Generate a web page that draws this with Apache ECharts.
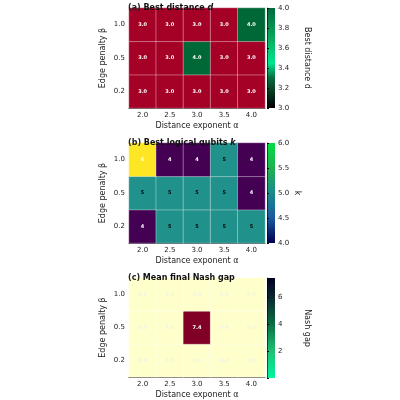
<!DOCTYPE html><html><head><meta charset="utf-8"><script src="https://cdn.jsdelivr.net/npm/echarts@6/dist/echarts.min.js"></script>
<style>html,body{margin:0;background:#fff}#c{width:400px;height:400px}</style></head><body><div id="c"></div><script>
const alphas=['2.0','2.5','3.0','3.5','4.0'];
const betas=['0.2','0.5','1.0'];
// rows: beta 0.2, 0.5, 1.0 ; columns alpha
const bestD=[[3.0,3.0,3.0,3.0,3.0],[3.0,3.0,4.0,3.0,3.0],[3.0,3.0,3.0,3.0,4.0]];
const bestK=[[4,5,5,5,5],[5,5,5,5,4],[6,4,4,5,4]];
const nashGap=[[0.0,0.0,0.0,0.0,0.0],[0.0,0.0,7.4,0.0,0.0],[0.0,0.0,0.0,0.0,0.0]];
const cbA=[3.0,4.0], cbB=[4.0,6.0], cbC=[0,7.4];

const F='DejaVu Sans';
const panels=[
 {top:8,data:bestD,fmt:v=>v.toFixed(1),col:v=>v>=4?'#006837':'#a50026',lab:v=>'#fff',
  title:['(a) ','Best distance ','d'],cb:cbA,cbInt:0.2,cbName:'Best distance d',cbFmt:v=>v.toFixed(1),
  grad:[[0,'#000000'],[0.3,'#0b6b3e'],[0.45,'#00e68c'],[0.7,'#0aa85c'],[1,'#006b3c']]},
 {top:143,data:bestK,fmt:v=>String(v),col:v=>v==6?'#fde725':v==5?'#21918c':'#440154',lab:v=>v==5?'#000':'#fff',
  title:['(b) ','Best logical qubits ','k'],cb:cbB,cbInt:0.5,cbName:'k',cbFmt:v=>v.toFixed(1),
  grad:[[0,'#000050'],[0.25,'#1a5aa0'],[0.5,'#1a8a8a'],[0.75,'#20b050'],[1,'#00e040']]},
 {top:278,data:nashGap,fmt:v=>v.toFixed(1),col:v=>v>1?'#800026':'#ffffcc',lab:v=>v>1?'#fff':'#f2f2e0',
  title:['(c) ','Mean final Nash gap',''],cb:cbC,cbInt:2,cbName:'Nash gap',cbFmt:v=>String(v),cbMin:0,
  grad:[[0,'#00f5a0'],[0.27,'#1ec070'],[0.55,'#0a6a40'],[0.8,'#0a2a30'],[1,'#000020']]}
];
const grid=[],xAxis=[],yAxis=[],series=[],graphic=[],title=[];
panels.forEach((p,i)=>{
 grid.push({left:129,top:p.top,width:136,height:100});
 grid.push({left:267,top:p.top,width:8,height:100});
 const gi=i*2;
 xAxis.push({gridIndex:gi,type:'category',data:alphas,name:'Distance exponent α',nameLocation:'middle',nameGap:14,
   nameTextStyle:{fontFamily:F,fontSize:8,color:'#222'},axisLine:{lineStyle:{color:'#000',width:0.8}},
   axisTick:{length:2,alignWithLabel:true,lineStyle:{color:'#000'}},axisLabel:{fontFamily:F,fontSize:7,color:'#222',margin:4},splitLine:{show:false}});
 yAxis.push({gridIndex:gi,type:'category',data:betas,name:'Edge penalty β',nameLocation:'middle',nameGap:22,
   nameTextStyle:{fontFamily:F,fontSize:8,color:'#222'},axisLine:{lineStyle:{color:'#000',width:0.8}},
   axisTick:{length:2,alignWithLabel:true,lineStyle:{color:'#000'}},axisLabel:{fontFamily:F,fontSize:7,color:'#222',margin:4}});
 xAxis.push({gridIndex:gi+1,type:'value',show:false,min:0,max:1});
 yAxis.push({gridIndex:gi+1,type:'value',position:'right',min:p.cbMin!==undefined?p.cbMin:p.cb[0],max:p.cb[1],interval:p.cbInt,
   name:p.cbName,nameLocation:'middle',nameGap:i==1?18:28,nameRotate:-90,nameTextStyle:{fontFamily:F,fontSize:8,color:'#222'},
   axisLine:{show:true,lineStyle:{color:'#000',width:0.6}},axisTick:{show:true,length:2,lineStyle:{color:'#000'}},
   axisLabel:{fontFamily:F,fontSize:7,color:'#222',margin:3,formatter:v=>(p.cbMin===0&&v===0)?'':p.cbFmt(v),showMaxLabel:p.cbMin!==0},splitLine:{show:false}});
 const d=[];
 p.data.forEach((row,r)=>row.forEach((v,c)=>d.push({value:[c,r,v],itemStyle:{color:p.col(v)},label:{color:p.lab(v)}})));
 series.push({type:'heatmap',xAxisIndex:gi,yAxisIndex:gi,data:d,
   itemStyle:{borderColor:'rgba(255,255,255,0.6)',borderWidth:0.6},
   label:{show:true,fontFamily:F,fontSize:5,fontWeight:'bold',formatter:o=>p.fmt(o.value[2])}});
 graphic.push({type:'rect',shape:{x:267,y:p.top,width:8,height:100},z:-1,
   style:{fill:new echarts.graphic.LinearGradient(0,1,0,0,p.grad.map(g=>({offset:g[0],color:g[1]})))}});
 title.push({left:123,top:p.top-9,text:'{a|'+p.title[0]+'}{b|'+p.title[1]+'}{c|'+p.title[2]+'}',
   textStyle:{rich:{a:{fontFamily:F,fontSize:8,color:'#222'},b:{fontFamily:F,fontSize:8,fontWeight:'bold',color:'#111'},c:{fontFamily:F,fontSize:8,fontStyle:'italic',color:'#111'}}}});
});
const ch=echarts.init(document.getElementById('c'),null,{renderer:'canvas'});
ch.setOption({animation:false,backgroundColor:'#fff',title,grid,xAxis,yAxis,series,graphic});
</script></body></html>
